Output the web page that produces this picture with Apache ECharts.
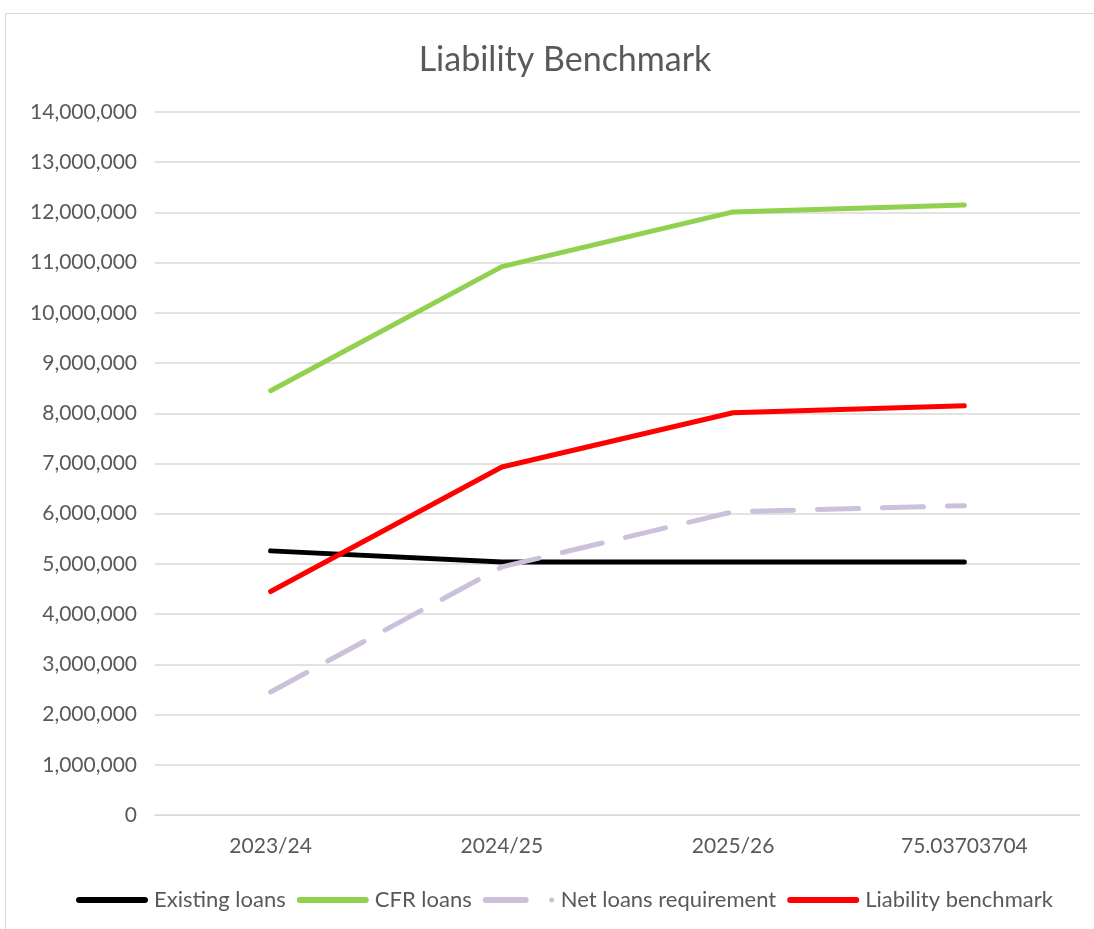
<!DOCTYPE html>
<html><head><meta charset="utf-8">
<script src="https://cdn.jsdelivr.net/npm/echarts@6/dist/echarts.min.js"></script>
<style>
html,body{margin:0;padding:0;background:#fff;}
#frame{position:absolute;left:5px;top:13px;width:1100px;height:930px;border:1px solid #d9d9d9;box-sizing:border-box;}
#c{position:absolute;left:0;top:0;width:1094px;height:929px;}
</style></head>
<body>
<div id="frame"></div>
<div id="c"></div>
<script>
const categories = ['2023/24', '2024/25', '2025/26', '75.03703704'];
const existingLoans = [5260000, 5040000, 5040000, 5040000];
const cfrLoans = [8450000, 10920000, 12010000, 12150000];
const netLoansRequirement = [2450000, 4940000, 6040000, 6160000];
const liabilityBenchmark = [4450000, 6930000, 8010000, 8150000];
const seriesNames = ['Existing loans', 'CFR loans', 'Net loans requirement', 'Liability benchmark'];

const FONT = 'Lato, "Open Sans", sans-serif';
const chart = echarts.init(document.getElementById('c'));
function ser(name, data, color, dash) {
  return {
    name, type: 'line', data, symbol: 'none', animation: false,
    lineStyle: { color, width: 5, type: dash || 'solid', cap: 'round', join: 'round' },
    itemStyle: { color }
  };
}
const solidIcon = 'path://M3,0 L69,0 A3,3 0 0 1 69,6 L3,6 A3,3 0 0 1 3,0 Z';
const dashIcon = 'path://M3,0 L43,0 A3,3 0 0 1 43,6 L3,6 A3,3 0 0 1 3,0 Z M69,0.5 A2.5,2.5 0 0 1 69,5.5 A2.5,2.5 0 0 1 69,0.5 Z M72,3 L72,3.01 Z';
chart.setOption({
  animation: false,
  title: { text: 'Liability Benchmark', left: 560, textAlign: 'center', top: 38,
    textStyle: { fontFamily: FONT, fontSize: 34, fontWeight: 'normal', color: '#595959' } },
  grid: { left: 155, right: 14, top: 112, bottom: 114 },
  xAxis: { type: 'category', data: categories, boundaryGap: true,
    axisLine: { lineStyle: { color: '#d9d9d9', width: 1 } },
    axisTick: { show: false },
    axisLabel: { fontFamily: FONT, fontSize: 21, color: '#595959', margin: 21 } },
  yAxis: { type: 'value', min: 0, max: 14000000, interval: 1000000,
    axisLine: { show: false }, axisTick: { show: false },
    splitLine: { lineStyle: { color: '#d9d9d9', width: 1.5 } },
    axisLabel: { fontFamily: FONT, fontSize: 21, color: '#595959', margin: 18,
      formatter: v => v.toLocaleString('en-US') } },
  legend: { bottom: 13, left: 71, itemWidth: 72, itemHeight: 6, itemGap: 11,
    symbolKeepAspect: false,
    textStyle: { fontFamily: FONT, fontSize: 22, color: '#595959', padding: [0,0,0,1] },
    data: [
      { name: seriesNames[0], icon: solidIcon },
      { name: seriesNames[1], icon: solidIcon },
      { name: seriesNames[2], icon: dashIcon },
      { name: seriesNames[3], icon: solidIcon }
    ] },
  series: [
    ser(seriesNames[0], existingLoans, '#000000'),
    ser(seriesNames[1], cfrLoans, '#92d050'),
    ser(seriesNames[2], netLoansRequirement, '#ccc1da', [41, 24]),
    ser(seriesNames[3], liabilityBenchmark, '#ff0000')
  ]
});
</script>
</body></html>
